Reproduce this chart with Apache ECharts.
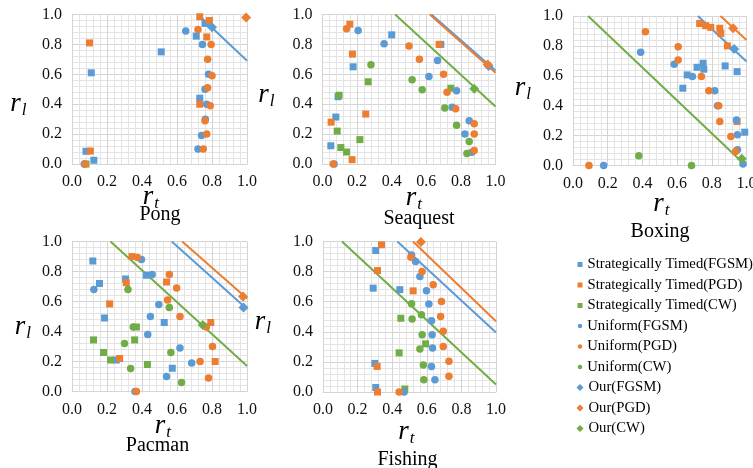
<!DOCTYPE html>
<html>
<head>
<meta charset="utf-8">
<script src="https://cdn.jsdelivr.net/npm/echarts@6/dist/echarts.min.js"></script>
<style>
	html, body { margin: 0; padding: 0; background: #fff; }
	#chart { width: 753px; height: 468px; }
</style>
</head>
<body>
<div id="chart"></div>
<script>
var games = ['Pong', 'Seaquest', 'Boxing', 'Pacman', 'Fishing'];
var seriesNames = [
	'Strategically Timed(FGSM)', 'Strategically Timed(PGD)', 'Strategically Timed(CW)',
	'Uniform(FGSM)', 'Uniform(PGD)', 'Uniform(CW)',
	'Our(FGSM)', 'Our(PGD)', 'Our(CW)'
];
var tickMin = 0, tickMax = 1, tickStep = 0.2;

// points per game, in the order of seriesNames: [r_t, r_l]
var pongPoints = [
	[[0.08, 0.085], [0.11, 0.61], [0.51, 0.75], [0.71, 0.855], [0.73, 0.44], [0.125, 0.025], [0.76, 0.94]],
	[[0.105, 0.087], [0.10, 0.81], [0.73, 0.985], [0.785, 0.96], [0.77, 0.85], [0.73, 0.40]],
	[[0.08, 0.0]],
	[[0.65, 0.89], [0.745, 0.80], [0.78, 0.60], [0.76, 0.50], [0.77, 0.40], [0.762, 0.30], [0.74, 0.19], [0.72, 0.10], [0.07, 0.0]],
	[[0.72, 0.90], [0.795, 0.80], [0.775, 0.70], [0.80, 0.59], [0.775, 0.51], [0.79, 0.39], [0.76, 0.29], [0.77, 0.20], [0.75, 0.10], [0.075, 0.0]],
	[],
	[[0.80, 0.915]],
	[[0.995, 0.98]],
	[]
];
var seaquestPoints = [
	[[0.048, 0.122], [0.077, 0.314], [0.09, 0.45], [0.177, 0.65], [0.40, 0.864], [0.684, 0.80]],
	[[0.05, 0.28], [0.158, 0.935], [0.173, 0.735], [0.25, 0.334], [0.171, 0.029], [0.674, 0.80]],
	[[0.096, 0.46], [0.085, 0.22], [0.106, 0.11], [0.139, 0.08], [0.216, 0.163], [0.264, 0.55], [0.742, 0.507]],
	[[0.206, 0.893], [0.356, 0.804], [0.615, 0.586], [0.665, 0.693], [0.775, 0.49], [0.75, 0.38], [0.848, 0.29], [0.823, 0.20], [0.863, 0.078], [0.067, 0.0]],
	[[0.139, 0.904], [0.50, 0.79], [0.56, 0.70], [0.70, 0.60], [0.72, 0.48], [0.77, 0.37], [0.877, 0.27], [0.877, 0.20], [0.877, 0.09], [0.062, 0.0]],
	[[0.28, 0.664], [0.518, 0.563], [0.576, 0.497], [0.707, 0.374], [0.775, 0.26], [0.848, 0.15], [0.835, 0.07]],
	[[0.96, 0.655]],
	[[0.955, 0.665]],
	[[0.877, 0.503]]
];
var boxingPoints = [
	[[0.633, 0.517], [0.658, 0.606], [0.715, 0.657], [0.75, 0.684], [0.754, 0.644], [0.877, 0.666], [0.946, 0.628], [0.99, 0.223]],
	[[0.73, 0.95], [0.765, 0.935], [0.794, 0.924], [0.846, 0.918], [0.852, 0.884], [0.89, 0.80], [0.946, 0.294]],
	[],
	[[0.177, 0.0], [0.39, 0.757], [0.583, 0.677], [0.688, 0.595], [0.817, 0.50], [0.833, 0.40], [0.942, 0.305], [0.948, 0.205], [0.948, 0.105], [0.98, 0.01]],
	[[0.092, 0.0], [0.417, 0.895], [0.606, 0.795], [0.606, 0.706], [0.74, 0.595], [0.783, 0.50], [0.84, 0.40], [0.846, 0.294], [0.91, 0.194], [0.937, 0.094]],
	[[0.379, 0.065], [0.683, 0.0]],
	[[0.929, 0.78]],
	[[0.923, 0.918]],
	[[0.973, 0.045]]
];
var pacmanPoints = [
	[[0.119, 0.87], [0.157, 0.72], [0.306, 0.75], [0.186, 0.49], [0.425, 0.775], [0.253, 0.21], [0.527, 0.46], [0.573, 0.155]],
	[[0.343, 0.90], [0.31, 0.725], [0.215, 0.584], [0.54, 0.73], [0.272, 0.22], [0.793, 0.46], [0.818, 0.20]],
	[[0.123, 0.344], [0.18, 0.26], [0.22, 0.21], [0.358, 0.344], [0.368, 0.43], [0.431, 0.18]],
	[[0.397, 0.88], [0.458, 0.78], [0.125, 0.68], [0.496, 0.58], [0.448, 0.50], [0.433, 0.38], [0.617, 0.29], [0.54, 0.10], [0.684, 0.19], [0.36, 0.0]],
	[[0.374, 0.893], [0.556, 0.78], [0.598, 0.69], [0.546, 0.61], [0.617, 0.50], [0.732, 0.20], [0.78, 0.09], [0.803, 0.30], [0.768, 0.43], [0.368, 0.0]],
	[[0.32, 0.68], [0.30, 0.32], [0.335, 0.153], [0.556, 0.56], [0.565, 0.26], [0.626, 0.06], [0.35, 0.43]],
	[[0.98, 0.56]],
	[[0.977, 0.633]],
	[[0.747, 0.444]]
];
var fishingPoints = [
	[[0.305, 0.94], [0.29, 0.69], [0.444, 0.68], [0.30, 0.19], [0.305, 0.03]],
	[[0.338, 0.978], [0.315, 0.807], [0.521, 0.672], [0.313, 0.17], [0.315, 0.0]],
	[[0.45, 0.49], [0.593, 0.32], [0.44, 0.26], [0.473, 0.02]],
	[[0.512, 0.911], [0.535, 0.867], [0.56, 0.768], [0.598, 0.672], [0.612, 0.584], [0.627, 0.473], [0.631, 0.38], [0.633, 0.292], [0.627, 0.17], [0.647, 0.082], [0.469, 0.0]],
	[[0.508, 0.896], [0.573, 0.80], [0.637, 0.712], [0.685, 0.602], [0.68, 0.502], [0.695, 0.403], [0.695, 0.303], [0.728, 0.204], [0.728, 0.104], [0.44, 0.0]],
	[[0.512, 0.586], [0.515, 0.485], [0.569, 0.513], [0.573, 0.38], [0.56, 0.285], [0.58, 0.18], [0.583, 0.082]],
	[],
	[[0.566, 0.996]],
	[]
];

// straight lines per game (FGSM, PGD, CW), end points [r_t, r_l]
var pongLines = [[[0.72, 1.0], [1.0, 0.69]], null, null];
var seaquestLines = [[[0.63, 1.0], [1.0, 0.625]], [[0.62, 1.0], [1.0, 0.61]], [[0.42, 1.0], [1.0, 0.385]]];
var boxingLines = [[[0.72, 1.0], [1.0, 0.695]], [[0.85, 1.0], [1.0, 0.84]], [[0.087, 1.0], [0.995, 0.0]]];
var pacmanLines = [[[0.57, 1.0], [1.0, 0.55]], [[0.63, 1.0], [1.0, 0.62]], [[0.22, 1.0], [1.0, 0.17]]];
var fishingLines = [[[0.43, 1.0], [1.0, 0.395]], [[0.52, 1.0], [1.0, 0.47]], [[0.11, 1.0], [1.0, 0.05]]];

var allPoints = [pongPoints, seaquestPoints, boxingPoints, pacmanPoints, fishingPoints];
var allLines = [pongLines, seaquestLines, boxingLines, pacmanLines, fishingLines];

// layout
var SERIF = 'Liberation Serif';
var colors = ['#5B9BD5', '#ED7D31', '#70AD47'];
var grids = [
	{ left: 72, top: 14.5, width: 175, height: 149.5 },
	{ left: 322.5, top: 14.5, width: 173, height: 149.5 },
	{ left: 573, top: 16, width: 173.5, height: 149.5 },
	{ left: 72, top: 241.5, width: 175, height: 150 },
	{ left: 323, top: 241.5, width: 173, height: 150.5 }
];
// title centre, r_l centre, r_t centre
var titlePos = [[160, 215], [419, 219], [660, 231.5], [157.5, 446], [407.5, 460]];
var rlPos = [[15.5, 106], [263.5, 97], [520, 90], [20, 329], [260, 324]];
var rtPos = [[148, 199], [411, 200], [658.5, 206], [160, 428], [403.5, 434]];

var chart = echarts.init(document.getElementById('chart'), null, { renderer: 'canvas' });

var makeAxis = function (i) {
	return {
		type: 'value', gridIndex: i, min: tickMin, max: tickMax, interval: tickStep,
		axisLine: { show: true, lineStyle: { color: '#d4d4d4', width: 1 } },
		axisTick: { show: false },
		minorTick: { show: true, splitNumber: 5, length: 0, lineStyle: { opacity: 0 } },
		axisLabel: {
			margin: 10, fontFamily: SERIF, fontSize: 16, color: '#111',
			formatter: function (v) { return v.toFixed(1); }
		},
		splitLine: { show: true, lineStyle: { color: '#d4d4d4', width: 1 } },
		minorSplitLine: { show: true, lineStyle: { color: '#e4e4e4', width: 1 } }
	};
};

var xAxes = [], yAxes = [], series = [], graphics = [];
games.forEach(function (game, g) {
	xAxes.push(makeAxis(g));
	yAxes.push(makeAxis(g));
	allLines[g].forEach(function (ln, k) {
		if (!ln) return;
		series.push({
			type: 'line', xAxisIndex: g, yAxisIndex: g, data: ln, silent: true,
			showSymbol: false, symbol: 'none', z: 1,
			lineStyle: { color: colors[k], width: 2 }
		});
	});
	allPoints[g].forEach(function (pts, s) {
		var group = Math.floor(s / 3);
		series.push({
			type: 'scatter', name: seriesNames[s], xAxisIndex: g, yAxisIndex: g,
			data: pts, z: 2,
			symbol: ['rect', 'circle', 'diamond'][group],
			symbolSize: [7, 7.5, 10][group],
			itemStyle: { color: colors[s % 3], opacity: 1 }
		});
	});

	graphics.push({
		type: 'text', x: titlePos[g][0], y: titlePos[g][1],
		style: { text: game, font: '20px "' + SERIF + '"', fill: '#000', align: 'center', verticalAlign: 'middle' }
	});
	[[rlPos[g], 'l'], [rtPos[g], 't']].forEach(function (nm) {
		graphics.push({
			type: 'text', x: nm[0][0], y: nm[0][1] - 2.5,
			style: { text: 'r', font: 'italic 27px "' + SERIF + '"', fill: '#000', align: 'center', verticalAlign: 'middle' }
		});
		graphics.push({
			type: 'text', x: nm[0][0] + 8.5, y: nm[0][1] + 5,
			style: { text: nm[1], font: 'italic 17px "' + SERIF + '"', fill: '#000', align: 'center', verticalAlign: 'middle' }
		});
	});
});

var makeLegend = function (names, icon, size, top) {
	return {
		orient: 'vertical', left: 580 - size / 2, top: top, padding: 0,
		itemWidth: size, itemHeight: size, itemGap: 4.5, selectedMode: false,
		icon: icon,
		textStyle: { fontFamily: SERIF, fontSize: 14.7, color: '#000', lineHeight: 16 },
		data: names
	};
};

chart.setOption({
	animation: false,
	backgroundColor: '#fff',
	textStyle: { fontFamily: SERIF },
	grid: grids.map(function (r) {
		return { left: r.left, top: r.top, width: r.width, height: r.height, containLabel: false, outerBoundsMode: 'none' };
	}),
	xAxis: xAxes,
	yAxis: yAxes,
	legend: [
		makeLegend(seriesNames.slice(0, 3), 'rect', 5, 256.5),
		makeLegend(seriesNames.slice(3, 6), 'circle', 4.5, 318),
		makeLegend(seriesNames.slice(6, 9), 'diamond', 7, 379.5)
	],
	graphic: graphics,
	series: series
});
</script>
</body>
</html>
